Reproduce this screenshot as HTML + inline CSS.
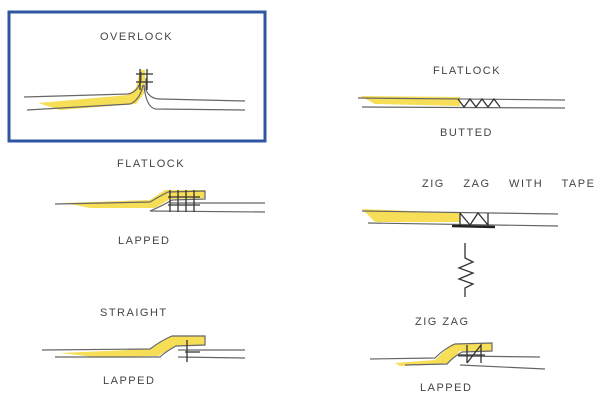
<!DOCTYPE html>
<html><head><meta charset="utf-8"><style>
html,body{margin:0;padding:0;background:#fff;width:603px;height:403px;overflow:hidden}
text{font-family:"Liberation Sans",sans-serif;font-size:11px;fill:#444;letter-spacing:1.5px}
.l{fill:none;stroke:#666;stroke-width:1.2}
.k{fill:none;stroke:#333;stroke-width:1.3}
.y{fill:#f6d83a;stroke:none;opacity:.85}
</style></head><body>
<svg width="603" height="403">
<rect x="9" y="12" width="256" height="129" fill="none" stroke="#2f56a0" stroke-width="3"/>
<g>
<text x="100" y="40">OVERLOCK</text>
<path class="y" d="M38 103 L128 95 L136 88 L140 70 L145 70 L145 92 L136 104 L60 110 Z"/>
<path class="l" d="M24 97 L128 94 Q138 92 141 80 L141 72"/>
<path class="l" d="M27 110 L130 104 Q140 100 143 85"/>
<path class="l" d="M146 78 L146 90 Q150 99 160 99 L245 101"/>
<path class="l" d="M144 85 Q146 108 156 109 L245 110"/>
<path class="k" d="M136 74 H153 M136 82 H153 M140 69 V90 M147 69 V90"/>
</g>
<g>
<text x="433" y="74">FLATLOCK</text>
<path class="y" d="M360 96 L460 97 L460 106 L375 104 Z"/>
<path class="l" d="M358 98 L565 100 M362 107 L565 108"/>
<path class="k" d="M458 99 L464 107 L470 99 L476 107 L482 99 L488 107 L494 99 L500 107"/>
<text x="440" y="136">BUTTED</text>
</g>
<g>
<text x="117" y="167">FLATLOCK</text>
<path class="y" d="M65 203 L150 200 L165 190 L205 190 L205 198 L170 199 L155 208 L90 208 Z"/>
<path class="l" d="M55 204 L150 202 Q160 196 168 192 L205 191 L205 199 L172 200 Q162 206 150 211 L265 212"/>
<path class="l" d="M170 203 L265 203"/>
<path class="k" d="M170 190 V212 M178 190 V212 M186 190 V212 M194 190 V212 M168 197 H200 M168 205 H200"/>
<text x="118" y="244">LAPPED</text>
</g>
<g>
<text x="100" y="316">STRAIGHT</text>
<path class="y" d="M60 353 L150 349 L170 336 L205 336 L205 345 L175 346 L158 356 L95 357 Z"/>
<path class="l" d="M42 350 L150 349 Q162 340 172 336 L205 336 L205 345 L176 346 Q165 352 160 357 L55 357"/>
<path class="l" d="M178 350 L245 350 M178 357 L245 358"/>
<path class="k" d="M187 340 V362 M185 352 H200"/>
<text x="103" y="384">LAPPED</text>
</g>
<g>
<text x="422" y="187" word-spacing="14">ZIG ZAG WITH TAPE</text>
<path class="y" d="M362 209 L460 213 L460 222 L375 222 Z"/>
<path class="l" d="M362 211 L558 214 M368 223 L558 226"/>
<path class="k" d="M460 213 V225 M460 213 L470 225 L478 213 L488 225 L488 213"/>
<path d="M452 226 L495 227" stroke="#222" stroke-width="2.5"/>
<path class="k" d="M465 243 V258 L473 262 L459 268 L473 273 L459 279 L473 284 L465 288 V297"/>
<text x="415" y="325">ZIG ZAG</text>
</g>
<g>
<path class="y" d="M395 363 L435 360 L452 344 L492 343 L492 351 L460 351 L448 364 L400 366 Z"/>
<path class="l" d="M370 359 L435 358 Q445 348 455 344 L492 343 L492 351 L462 352 Q452 358 447 364 L405 365"/>
<path class="l" d="M458 356 L540 357 M460 365 L545 369"/>
<path class="k" d="M467 345 V363 M467 363 L481 345 V363 M458 355 H485"/>
<text x="420" y="391">LAPPED</text>
</g>
</svg>
</body></html>
